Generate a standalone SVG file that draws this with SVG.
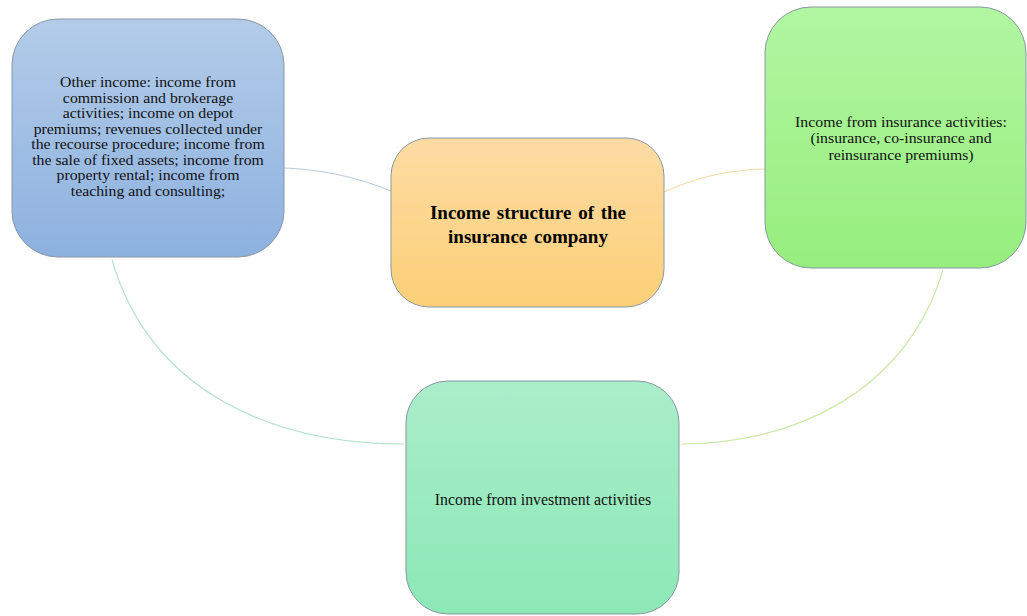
<svg xmlns="http://www.w3.org/2000/svg" width="1027" height="616" viewBox="0 0 1027 616">
<style>
.node{stroke:#8a96a3;stroke-width:1}
.t{font-family:"Liberation Serif","Times New Roman",serif;font-size:14px;fill:#111;text-anchor:middle}
.t2{font-family:"Liberation Serif","Times New Roman",serif;font-size:14.5px;fill:#111;text-anchor:middle}
.t3{font-family:"Liberation Serif","Times New Roman",serif;font-size:15.8px;fill:#111;text-anchor:middle}
.tb{font-family:"Liberation Serif","Times New Roman",serif;font-size:19px;font-weight:bold;fill:#000;text-anchor:middle;word-spacing:2px}
.c{fill:none;stroke-width:1.2}
</style>
<defs>
<linearGradient id="gBlue" x1="0" y1="0" x2="0" y2="1"><stop offset="0" stop-color="#b3cce9"/><stop offset="1" stop-color="#8db1df"/></linearGradient>
<linearGradient id="gOrange" x1="0" y1="0" x2="0" y2="1"><stop offset="0" stop-color="#fddba3"/><stop offset="1" stop-color="#fcd078"/></linearGradient>
<linearGradient id="gGreen" x1="0" y1="0" x2="0" y2="1"><stop offset="0" stop-color="#b2f6a2"/><stop offset="1" stop-color="#96ee7d"/></linearGradient>
<linearGradient id="gTeal" x1="0" y1="0" x2="0" y2="1"><stop offset="0" stop-color="#aaedca"/><stop offset="1" stop-color="#8ce8b6"/></linearGradient>
</defs>
<rect width="1027" height="616" fill="#ffffff"/>
<g id="connectors">
<path class="c" stroke="#bccbe0" d="M284,168 Q340,170 391,191"/>
<path class="c" stroke="#f3dca5" d="M664,192 Q712,170 765,169"/>
<path class="c" stroke="#b5e2cc" d="M112,260 C150,390 270,444 404,444"/>
<path class="c" stroke="#cde8aa" d="M943,270 C905,395 790,444 681,444"/>
</g>
<g id="node-other">
<rect class="node" x="12" y="19" width="272" height="238" rx="46" fill="url(#gBlue)"/>
<g transform="translate(148 0) scale(1.13 1)">
<text class="t" x="0" y="87.3">Other income: income from</text>
<text class="t" x="0" y="102.8">commission and brokerage</text>
<text class="t" x="0" y="118.3">activities;  income on depot</text>
<text class="t" x="0" y="133.8">premiums; revenues collected under</text>
<text class="t" x="0" y="149.3">the recourse procedure; income from</text>
<text class="t" x="0" y="164.8">the sale of fixed assets; income from</text>
<text class="t" x="0" y="180.3">property rental;  income from</text>
<text class="t" x="0" y="195.8">teaching and consulting;</text>
</g>
</g>
<g id="node-center">
<rect class="node" x="391" y="138" width="273" height="169" rx="38" fill="url(#gOrange)"/>
<text class="tb" x="528" y="219">Income structure of the</text>
<text class="tb" x="528" y="243">insurance company</text>
</g>
<g id="node-insurance">
<rect class="node" x="765" y="7" width="261" height="261" rx="46" fill="url(#gGreen)"/>
<g transform="translate(901 0) scale(1.09 1)">
<text class="t2" x="0" y="127">Income from insurance activities:</text>
<text class="t2" x="0" y="143.5">(insurance, co-insurance and</text>
<text class="t2" x="0" y="160">reinsurance premiums)</text>
</g>
</g>
<g id="node-investment">
<rect class="node" x="406" y="381" width="273" height="233" rx="42" fill="url(#gTeal)"/>
<text class="t3" x="543" y="505">Income from investment activities</text>
</g>
</svg>
